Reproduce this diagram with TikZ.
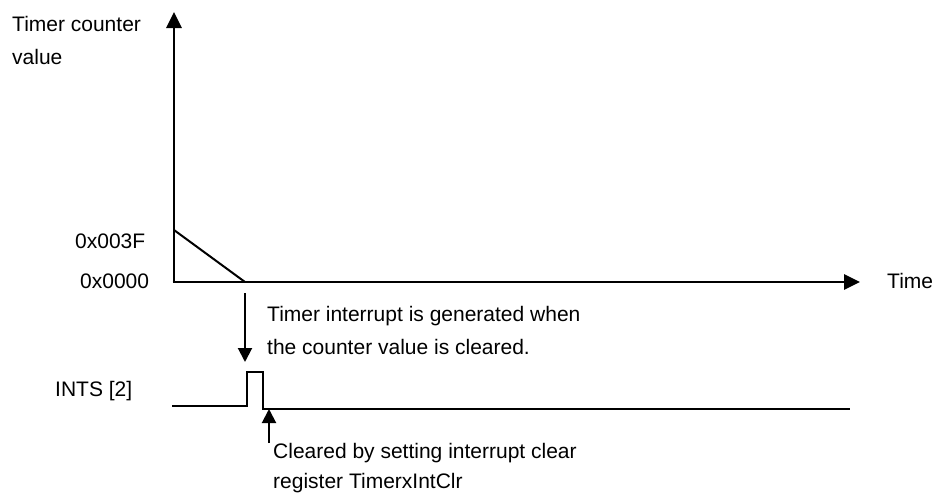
\documentclass[tikz,border=0pt]{standalone}
\usepackage{fontspec}
\setmainfont{Liberation Sans}
\usetikzlibrary{arrows.meta}
\begin{document}
\begin{tikzpicture}[x=1pt,y=-1pt,
  lbl/.style={anchor=base west,inner sep=0pt,font=\fontsize{21}{32}\selectfont},
  axis/.style={line width=2.7pt,-{Triangle[length=16pt,width=15pt]}},
  thin/.style={line width=2pt},
  sig/.style={line width=2.3pt},
  note/.style={line width=2pt,-{Triangle[length=14pt,width=14pt]}}]
\useasboundingbox (0,0) rectangle (938,496);
% coordinates
\coordinate (O) at (174,282);
\coordinate (Ytop) at (174,12);
\coordinate (Xend) at (860,282);
\coordinate (Tstart) at (174,230);
\coordinate (Tend) at (245,282);
\coordinate (Dtop) at (245,293);
\coordinate (Dbot) at (245,362);
\coordinate (Ua) at (269,443);
\coordinate (Ub) at (269,409);
% axes
\draw[axis] (O) -- (Ytop);
\draw[axis] ([xshift=-1.35pt]O) -- (Xend);
\draw[thin] (Tstart) -- (Tend);
% interrupt arrow
\draw[note] (Dtop) -- (Dbot);
% signal
\draw[sig,line join=miter] (172,406) -- (247,406) -- (247,372) -- (263,372) -- (263,409) -- (850,409);
\draw[note] (Ua) -- (Ub);
% labels
\node[lbl] (l1) at (12,31.7) {Timer counter};
\node[lbl] (l2) at (12,64.3) {value};
\node[lbl] (v1) at (75,248) {0x003F};
\node[lbl] (v0) at (80,288) {0x0000};
\node[lbl] (tm) at (887,288) {Time};
\node[lbl] (ints) at (55,396) {INTS [2]};
\node[lbl] (n1) at (267,321.7) {Timer interrupt is generated when};
\node[lbl] (n2) at (267,354) {the counter value is cleared.};
\node[lbl] (c1) at (273,458) {Cleared by setting interrupt clear};
\node[lbl] (c2) at (273,488) {register TimerxIntClr};
\end{tikzpicture}
\end{document}
